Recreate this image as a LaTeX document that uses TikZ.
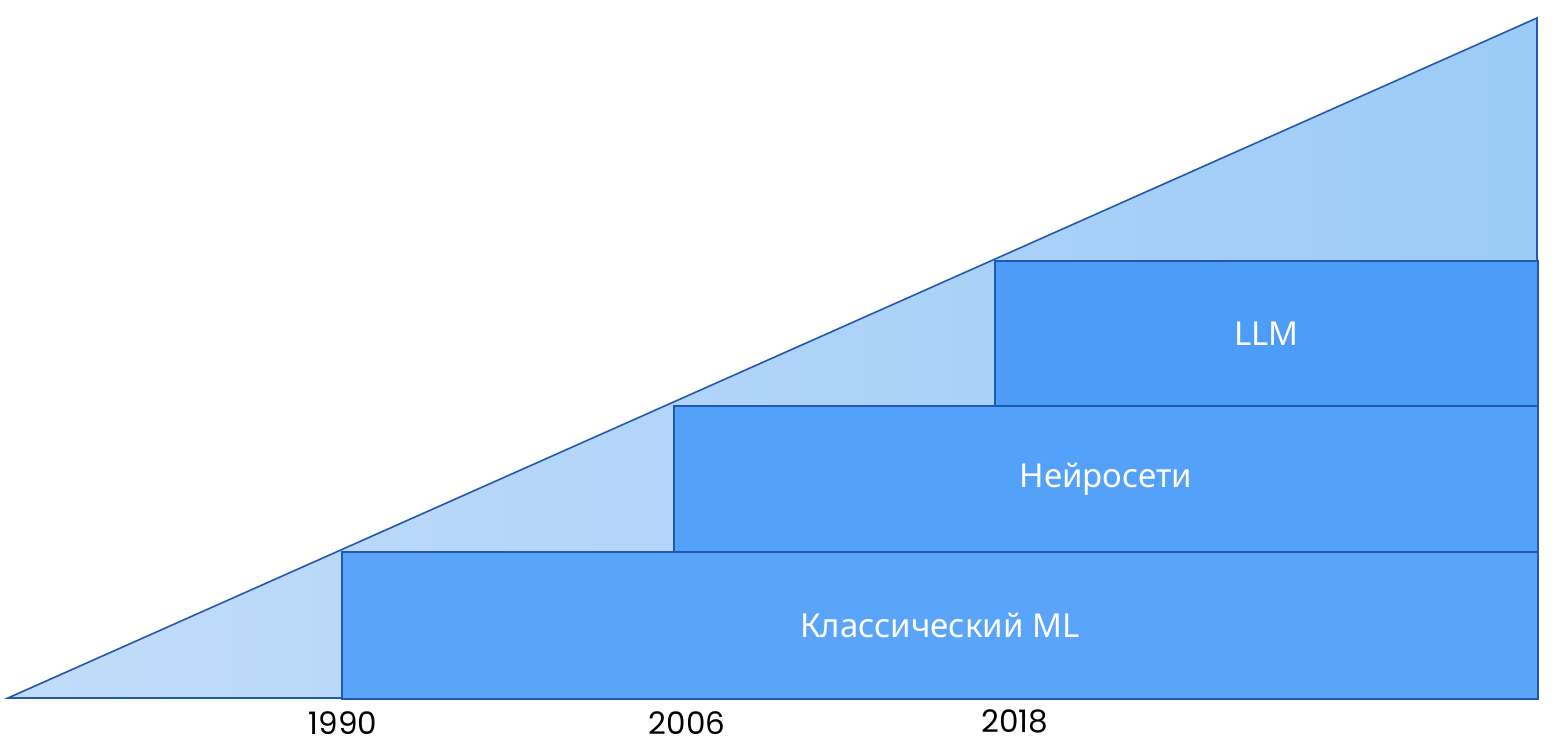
\documentclass[tikz,border=0pt]{standalone}
\usepackage{fontspec}
\setmainfont{Noto Sans}
\newfontfamily\yearfont{Poppins}
\begin{document}
\begin{tikzpicture}[x=1pt,y=-1pt,
  edge/.style={draw=lineblue, line width=1.6pt, line join=miter},
  era/.style={edge, rectangle, inner sep=0pt, text=white, font=\fontsize{33}{36}\selectfont},
  yearlbl/.style={font=\yearfont\fontsize{31}{34}\selectfont, text=black, inner sep=0pt, anchor=base}]
\definecolor{lineblue}{HTML}{2259AE}
\definecolor{tri1}{HTML}{C2DCFA}
\definecolor{tri2}{HTML}{9CCBF7}
\definecolor{boxA}{HTML}{5AA5F9}
\definecolor{boxB}{HTML}{53A1F9}
\definecolor{boxC}{HTML}{4D9CF8}
\useasboundingbox (0,0) rectangle (1560,743);
\fill[white] (0,0) rectangle (1560,743);
% triangle corners
\coordinate (A) at (8,698);
\coordinate (B) at (1537,698);
\coordinate (C) at (1537,18);
\shade[left color=tri1, right color=tri2] (A) -- (B) -- (C) -- cycle;
\draw[edge] (A) -- (B) -- (C) -- cycle;
% era boxes
\node[era, fill=boxA, minimum width=1196pt, minimum height=147pt, anchor=north west] (ml) at (341,551) {Классический ML};
\node[era, fill=boxB, minimum width=864pt, minimum height=146pt, anchor=north west] (nn) at (673,405) {Нейросети};
\node[era, fill=boxC, minimum width=543pt, minimum height=145pt, anchor=north west] (llm) at (994,260) {LLM};
% years
\node[yearlbl] (y1990) at (343,734) {1990};
\node[yearlbl] (y2006) at (687,734) {2006};
\node[yearlbl] (y2018) at (1015,732) {2018};
\end{tikzpicture}
\end{document}
